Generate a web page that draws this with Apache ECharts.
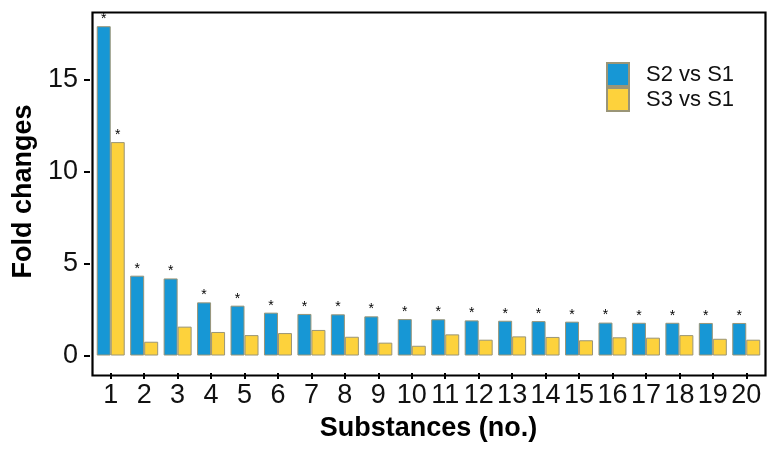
<!DOCTYPE html>
<html>
<head>
<meta charset="utf-8">
<script src="https://cdn.jsdelivr.net/npm/echarts@6/dist/echarts.min.js"></script>
<style>
  html, body { margin: 0; padding: 0; background: #fff; }
  #chart { width: 777px; height: 457px; }
</style>
</head>
<body>
<div id="chart"></div>
<script>
// substances (no.) on the x axis
const substances = ['1','2','3','4','5','6','7','8','9','10','11','12','13','14','15','16','17','18','19','20'];
// fold changes
const s2vsS1 = [17.9, 4.34, 4.19, 2.89, 2.71, 2.33, 2.26, 2.24, 2.13, 1.98, 1.97, 1.91, 1.89, 1.87, 1.84, 1.79, 1.78, 1.78, 1.77, 1.77];
const s3vsS1 = [11.6, 0.75, 1.57, 1.28, 1.11, 1.22, 1.39, 1.02, 0.70, 0.53, 1.15, 0.86, 1.04, 1.01, 0.83, 0.99, 0.97, 1.11, 0.91, 0.86];
// substances where the S3 bar carries a star
const s3Starred = ['1'];
const yTicks = [0, 5, 10, 15];

const font = "'Liberation Sans', Arial, sans-serif";
const barBorder = '#9a9577';

const myChart = echarts.init(document.getElementById('chart'));

const option = {
  backgroundColor: '#fff',
  animation: false,
  textStyle: { fontFamily: font, color: '#000' },
  grid: { left: 94, right: 14, top: 10, bottom: 84 },
  graphic: [{
    type: 'rect',
    left: 90, top: 10,
    shape: { width: 673, height: 363 },
    style: { fill: null, stroke: '#000', lineWidth: 2.2 },
    z: 100
  }],
  legend: {
    orient: 'vertical',
    left: 601, top: 57,
    itemWidth: 22, itemHeight: 23, itemGap: 0,
    icon: 'rect',
    textStyle: { fontFamily: font, fontSize: 22, color: '#111', padding: [0, 0, 0, 12] },
    data: ['S2 vs S1', 'S3 vs S1']
  },
  xAxis: {
    type: 'category',
    data: substances,
    name: 'Substances (no.)',
    nameLocation: 'middle',
    nameGap: 42,
    nameTextStyle: { fontFamily: font, fontSize: 27, fontWeight: 'bold', color: '#000' },
    axisLine: { show: false, onZero: false },
    axisTick: { show: true, alignWithLabel: true, interval: 0, length: 6, lineStyle: { color: '#000', width: 2 } },
    axisLabel: { interval: 0, fontFamily: font, fontSize: 27, color: '#111', margin: 9 }
  },
  yAxis: {
    type: 'value',
    min: -0.95,
    max: 18.78,
    offset: 4,
    name: 'Fold changes',
    nameLocation: 'middle',
    nameGap: 53,
    nameTextStyle: { fontFamily: font, fontSize: 27, fontWeight: 'bold', color: '#000' },
    splitLine: { show: false },
    axisLine: { show: false },
    axisTick: { show: true, length: 6, customValues: yTicks, lineStyle: { color: '#000', width: 2 } },
    axisLabel: { fontFamily: font, fontSize: 27, color: '#111', margin: 12, customValues: yTicks }
  },
  series: [
    {
      name: 'S2 vs S1',
      type: 'bar',
      barWidth: 14,
      barGap: '0%',
      data: s2vsS1,
      itemStyle: { color: '#1797d5', borderColor: barBorder, borderWidth: 1 },
      label: { show: true, position: 'top', distance: 0, formatter: '*', fontSize: 14, color: '#000' }
    },
    {
      name: 'S3 vs S1',
      type: 'bar',
      barWidth: 14,
      barGap: '0%',
      data: s3vsS1.map((v, i) => ({
        value: v,
        label: { show: s3Starred.includes(substances[i]) }
      })),
      itemStyle: { color: '#fdd23c', borderColor: barBorder, borderWidth: 1 },
      label: { show: false, position: 'top', distance: 0, formatter: '*', fontSize: 14, color: '#000' }
    }
  ]
};

option && myChart.setOption(option);
</script>
</body>
</html>
